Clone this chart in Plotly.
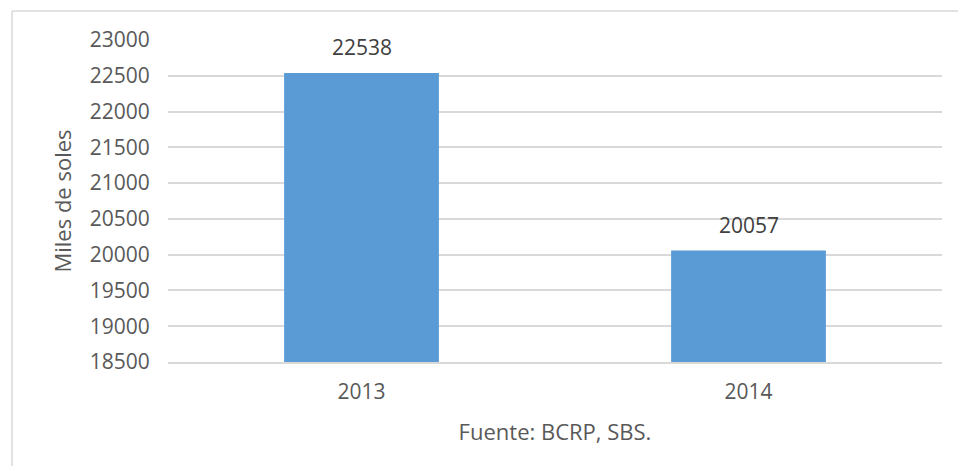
import plotly.graph_objects as go

years = ["2013", "2014"]
values = [22538, 20057]
y_ticks = [18500, 19000, 19500, 20000, 20500, 21000, 21500, 22000, 22500, 23000]

TXT = "#595959"
GRID = "#D9D9D9"
FONT = "Open Sans"
FS = 21

fig = go.Figure(
    go.Bar(x=years, y=values, marker=dict(color="#5B9BD5", line=dict(width=0)))
)

for i, v in enumerate(values):
    fig.add_annotation(x=i, y=v, text=str(v), showarrow=False, yanchor="bottom",
                       yshift=10, font=dict(family=FONT, size=FS, color="#404040"))

# outer chart border (only left and top edges fall inside the view)
bx = (4 - 160) / 774
by = (354 - 3) / 322
fig.add_shape(type="line", xref="paper", yref="paper", x0=bx, x1=bx, y0=-0.6, y1=by,
              line=dict(color=GRID, width=1.5), layer="below")
fig.add_shape(type="line", xref="paper", yref="paper", x0=bx, x1=1.2, y0=by, y1=by,
              line=dict(color=GRID, width=1.5), layer="below")

fig.update_layout(
    width=950, height=458,
    margin=dict(l=160, r=16, t=32, b=104),
    paper_bgcolor="white", plot_bgcolor="white",
    bargap=0.6, showlegend=False,
    font=dict(family=FONT, size=FS, color=TXT),
    xaxis=dict(
        type="category", range=[-0.5, len(years) - 0.5], automargin=False,
        title=dict(text="Fuente: BCRP, SBS.", standoff=21, font=dict(size=FS + 1, color=TXT)),
        showgrid=False, showline=True, linecolor=GRID, linewidth=1.5,
        ticks="outside", ticklen=10, tickcolor="rgba(0,0,0,0)",
        tickfont=dict(size=FS, color=TXT),
    ),
    yaxis=dict(
        automargin=False,
        title=dict(text="Miles de soles", standoff=12, font=dict(size=FS + 1, color=TXT)),
        range=[18500, 23000], tickvals=y_ticks, tickformat="d",
        showgrid=True, gridcolor=GRID, gridwidth=1.5, zeroline=False,
        ticks="outside", ticklen=13, tickcolor="rgba(0,0,0,0)",
        tickfont=dict(size=FS, color=TXT),
    ),
)

fig.write_html("out.html")
